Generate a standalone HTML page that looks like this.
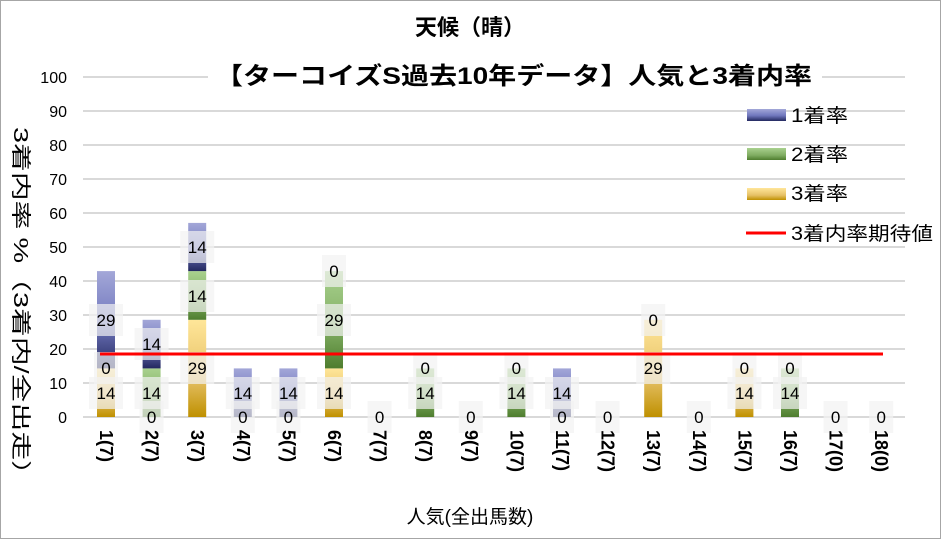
<!DOCTYPE html>
<html><head><meta charset="utf-8"><style>
body{margin:0;background:#fff;}
svg{display:block;font-family:"Liberation Sans","Noto Sans CJK JP",sans-serif;}
</style></head><body>
<svg width="941" height="539" viewBox="0 0 941 539">
<defs>
<linearGradient id="gb" x1="0" y1="0" x2="0" y2="1"><stop offset="0" stop-color="#a3a7d8"/><stop offset="0.55" stop-color="#7077bd"/><stop offset="1" stop-color="#23285f"/></linearGradient>
<linearGradient id="gg" x1="0" y1="0" x2="0" y2="1"><stop offset="0" stop-color="#a9d18e"/><stop offset="0.6" stop-color="#80ad62"/><stop offset="1" stop-color="#4e7d2e"/></linearGradient>
<linearGradient id="gy" x1="0" y1="0" x2="0" y2="1"><stop offset="0" stop-color="#ffe699"/><stop offset="0.6" stop-color="#e6c167"/><stop offset="1" stop-color="#bf9000"/></linearGradient>
</defs>
<rect x="0.5" y="0.5" width="940" height="538" fill="#fff" stroke="#a6a6a6"/>
<g stroke="#d9d9d9" stroke-width="2">
<line x1="83" x2="905" y1="417" y2="417"/><line x1="83" x2="905" y1="383" y2="383"/><line x1="83" x2="905" y1="349" y2="349"/><line x1="83" x2="905" y1="315" y2="315"/><line x1="83" x2="905" y1="281" y2="281"/><line x1="83" x2="905" y1="247" y2="247"/><line x1="83" x2="905" y1="213" y2="213"/><line x1="83" x2="905" y1="179" y2="179"/><line x1="83" x2="905" y1="145" y2="145"/><line x1="83" x2="905" y1="111" y2="111"/><line x1="83" x2="905" y1="77" y2="77"/>
</g>
<rect x="208" y="58" width="614" height="34" fill="#fff"/>
<text x="470" y="35" text-anchor="middle" font-size="22" font-weight="bold">天候（晴）</text>
<text x="215" y="84" font-size="24" font-weight="bold" textLength="597" lengthAdjust="spacingAndGlyphs">【ターコイズS過去10年データ】人気と3着内率</text>
<g font-size="16" text-anchor="end" fill="#000">
<text x="67" y="423">0</text><text x="67" y="389">10</text><text x="67" y="355">20</text><text x="67" y="321">30</text><text x="67" y="287">40</text><text x="67" y="253">50</text><text x="67" y="219">60</text><text x="67" y="185">70</text><text x="67" y="151">80</text><text x="67" y="117">90</text><text x="67" y="83">100</text>
</g>
<text transform="translate(14,127) rotate(90)" font-size="20" textLength="362" lengthAdjust="spacingAndGlyphs">3着内率 %（3着内/全出走）</text>
<rect x="97" y="368.4" width="18" height="48.6" fill="url(#gy)"/>
<rect x="97" y="271.1" width="18" height="97.3" fill="url(#gb)"/>
<rect x="142.6" y="368.4" width="18" height="48.6" fill="url(#gg)"/>
<rect x="142.6" y="319.8" width="18" height="48.6" fill="url(#gb)"/>
<rect x="188.2" y="319.8" width="18" height="97.2" fill="url(#gy)"/>
<rect x="188.2" y="271.1" width="18" height="48.7" fill="url(#gg)"/>
<rect x="188.2" y="222.9" width="18" height="48.2" fill="url(#gb)"/>
<rect x="233.8" y="368.4" width="18" height="48.6" fill="url(#gb)"/>
<rect x="279.4" y="368.4" width="18" height="48.6" fill="url(#gb)"/>
<rect x="325" y="368.4" width="18" height="48.6" fill="url(#gy)"/>
<rect x="325" y="271.1" width="18" height="97.3" fill="url(#gg)"/>
<rect x="416.2" y="368.4" width="18" height="48.6" fill="url(#gg)"/>
<rect x="507.4" y="368.4" width="18" height="48.6" fill="url(#gg)"/>
<rect x="553" y="368.4" width="18" height="48.6" fill="url(#gb)"/>
<rect x="644.2" y="319.8" width="18" height="97.2" fill="url(#gy)"/>
<rect x="735.4" y="368.4" width="18" height="48.6" fill="url(#gy)"/>
<rect x="781" y="368.4" width="18" height="48.6" fill="url(#gg)"/>
<g fill="#f2f2f2" fill-opacity="0.7">
<rect x="89" y="377" width="34" height="32"/><rect x="94" y="352" width="24" height="32"/><rect x="89" y="304" width="34" height="32"/>
<rect x="139.6" y="401" width="24" height="32"/><rect x="134.6" y="377" width="34" height="32"/><rect x="134.6" y="328" width="34" height="32"/>
<rect x="180.2" y="352" width="34" height="32"/><rect x="180.2" y="280" width="34" height="32"/><rect x="180.2" y="231" width="34" height="32"/>
<rect x="230.8" y="401" width="24" height="32"/><rect x="225.8" y="377" width="34" height="32"/>
<rect x="276.4" y="401" width="24" height="32"/><rect x="271.4" y="377" width="34" height="32"/>
<rect x="317" y="377" width="34" height="32"/><rect x="317" y="304" width="34" height="32"/><rect x="322" y="255" width="24" height="32"/>
<rect x="367.6" y="401" width="24" height="32"/>
<rect x="408.2" y="377" width="34" height="32"/><rect x="413.2" y="352" width="24" height="32"/>
<rect x="458.8" y="401" width="24" height="32"/>
<rect x="499.4" y="377" width="34" height="32"/><rect x="504.4" y="352" width="24" height="32"/>
<rect x="550" y="401" width="24" height="32"/><rect x="545" y="377" width="34" height="32"/>
<rect x="595.6" y="401" width="24" height="32"/>
<rect x="636.2" y="352" width="34" height="32"/><rect x="641.2" y="304" width="24" height="32"/>
<rect x="686.8" y="401" width="24" height="32"/>
<rect x="727.4" y="377" width="34" height="32"/><rect x="732.4" y="352" width="24" height="32"/>
<rect x="773" y="377" width="34" height="32"/><rect x="778" y="352" width="24" height="32"/>
<rect x="823.6" y="401" width="24" height="32"/>
<rect x="869.2" y="401" width="24" height="32"/>
</g>
<line x1="100" x2="883" y1="354" y2="354" stroke="#ff0000" stroke-width="3"/>
<g font-size="17" text-anchor="middle" fill="#000">
<text x="106" y="399">14</text><text x="106" y="374">0</text><text x="106" y="326">29</text>
<text x="151.6" y="423">0</text><text x="151.6" y="399">14</text><text x="151.6" y="350">14</text>
<text x="197.2" y="374">29</text><text x="197.2" y="302">14</text><text x="197.2" y="253">14</text>
<text x="242.8" y="423">0</text><text x="242.8" y="399">14</text>
<text x="288.4" y="423">0</text><text x="288.4" y="399">14</text>
<text x="334" y="399">14</text><text x="334" y="326">29</text><text x="334" y="277">0</text>
<text x="379.6" y="423">0</text>
<text x="425.2" y="399">14</text><text x="425.2" y="374">0</text>
<text x="470.8" y="423">0</text>
<text x="516.4" y="399">14</text><text x="516.4" y="374">0</text>
<text x="562" y="423">0</text><text x="562" y="399">14</text>
<text x="607.6" y="423">0</text>
<text x="653.2" y="374">29</text><text x="653.2" y="326">0</text>
<text x="698.8" y="423">0</text>
<text x="744.4" y="399">14</text><text x="744.4" y="374">0</text>
<text x="790" y="399">14</text><text x="790" y="374">0</text>
<text x="835.6" y="423">0</text>
<text x="881.2" y="423">0</text>
</g>
<g font-size="18" font-weight="bold" fill="#000">
<text transform="translate(100,430) rotate(90)">1(7)</text>
<text transform="translate(145.6,430) rotate(90)">2(7)</text>
<text transform="translate(191.2,430) rotate(90)">3(7)</text>
<text transform="translate(236.8,430) rotate(90)">4(7)</text>
<text transform="translate(282.4,430) rotate(90)">5(7)</text>
<text transform="translate(328,430) rotate(90)">6(7)</text>
<text transform="translate(373.6,430) rotate(90)">7(7)</text>
<text transform="translate(419.2,430) rotate(90)">8(7)</text>
<text transform="translate(464.8,430) rotate(90)">9(7)</text>
<text transform="translate(510.4,430) rotate(90)">10(7)</text>
<text transform="translate(556,430) rotate(90)">11(7)</text>
<text transform="translate(601.6,430) rotate(90)">12(7)</text>
<text transform="translate(647.2,430) rotate(90)">13(7)</text>
<text transform="translate(692.8,430) rotate(90)">14(7)</text>
<text transform="translate(738.4,430) rotate(90)">15(7)</text>
<text transform="translate(784,430) rotate(90)">16(7)</text>
<text transform="translate(829.6,430) rotate(90)">17(0)</text>
<text transform="translate(875.2,430) rotate(90)">18(0)</text>
</g>
<text x="470" y="523" text-anchor="middle" font-size="19">人気(全出馬数)</text>
<rect x="747" y="109" width="39" height="12" fill="url(#gb)"/>
<rect x="747" y="148" width="39" height="12" fill="url(#gg)"/>
<rect x="747" y="188" width="39" height="12" fill="url(#gy)"/>
<line x1="746" x2="786" y1="233" y2="233" stroke="#ff0000" stroke-width="3"/>
<g font-size="19" fill="#000">
<text x="791" y="122" textLength="57" lengthAdjust="spacingAndGlyphs">1着率</text>
<text x="791" y="161" textLength="57" lengthAdjust="spacingAndGlyphs">2着率</text>
<text x="791" y="200" textLength="57" lengthAdjust="spacingAndGlyphs">3着率</text>
<text x="791" y="240" textLength="142" lengthAdjust="spacingAndGlyphs">3着内率期待値</text>
</g>
</svg>
</body></html>
